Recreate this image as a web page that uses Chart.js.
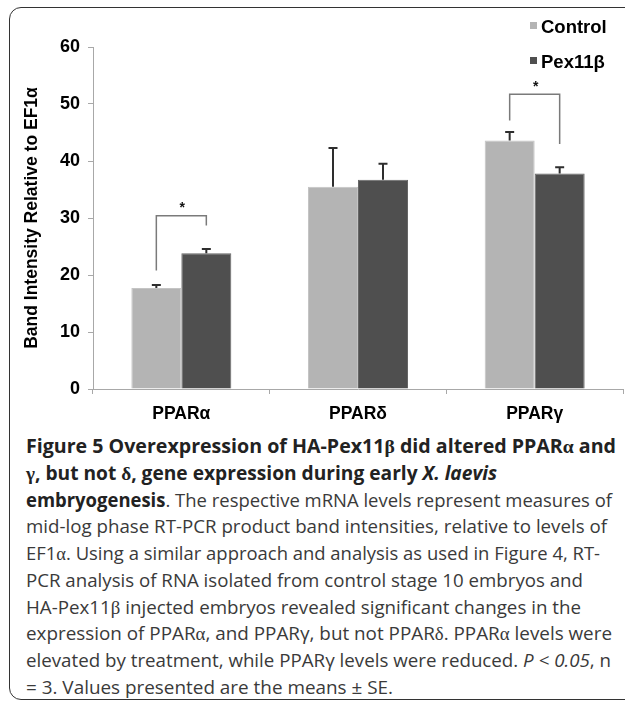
<!DOCTYPE html>
<html><head><meta charset="utf-8">
<script src="https://cdn.jsdelivr.net/npm/chart.js@4.4.1/dist/chart.umd.min.js"></script>
<style>
html,body{margin:0;padding:0;background:#fff;width:625px;height:704px;overflow:hidden;}
#frame{position:absolute;left:9px;top:7px;width:660px;height:693px;border:1.5px solid #333;border-radius:12px;box-sizing:border-box;}
#c{position:absolute;left:0;top:0;}
#cap{position:absolute;left:26px;top:0;font-family:"Open Sans",sans-serif;font-size:19px;color:#3a3a3a;}
.ln{position:absolute;left:0;white-space:nowrap;transform-origin:0 50%;line-height:26.7px;height:26.7px;}
.b{font-weight:bold;color:#222;}
.g{font-family:"Liberation Serif","DejaVu Serif",serif;}
</style></head>
<body>
<div id="frame"></div>
<canvas id="c" width="625" height="430"></canvas>
<div id="cap">
<div class="ln" data-r="616"><span class="b">Figure 5 Overexpression of HA-Pex11<span class="g">β</span> did altered PPAR<span class="g">α</span> and</span></div>
<div class="ln" data-r="497"><span class="b"><span class="g">γ</span>, but not <span class="g">δ</span>, gene expression during early <i>X. laevis</i></span></div>
<div class="ln" data-r="612"><span class="b">embryogenesis</span>. The respective mRNA levels represent measures of</div>
<div class="ln" data-r="607">mid-log phase RT-PCR product band intensities, relative to levels of</div>
<div class="ln" data-r="600">EF1<span class="g">α</span>. Using a similar approach and analysis as used in Figure 4, RT-</div>
<div class="ln" data-r="583">PCR analysis of RNA isolated from control stage 10 embryos and</div>
<div class="ln" data-r="581">HA-Pex11<span class="g">β</span> injected embryos revealed significant changes in the</div>
<div class="ln" data-r="612">expression of PPAR<span class="g">α</span>, and PPARγ, but not PPAR<span class="g">δ</span>. PPAR<span class="g">α</span> levels were</div>
<div class="ln" data-r="611">elevated by treatment, while PPARγ levels were reduced. <i>P &lt; 0.05</i>, n</div>
<div class="ln" data-r="393">= 3. Values presented are the means ± SE.</div>
</div>
<script>
// ---- data ----
const categories = ['PPARα', 'PPARδ', 'PPARγ'];
const seriesNames = ['Control', 'Pex11β'];
const controlValues = [17.7, 35.5, 43.6];
const pexValues = [23.8, 36.7, 37.8];
const controlSE = [0.55, 6.8, 1.5];
const pexSE = [0.75, 2.8, 1.1];
const yTicks = [0, 10, 20, 30, 40, 50, 60];
const sigCategories = [0, 2];
const bracketTops = [30.4, 51.7];
const bracketLeftEnds = [20.8, 47.1];
const bracketRightEnds = [28.7, 43.0];
const starLevels = [32.2, 53.5];
const seriesColors = ['#b4b4b4', '#4f4f4f'];
const seriesBorders = ['#c4c4c4', '#666666'];

// caption layout
document.querySelectorAll('#cap .ln').forEach((el, i) => {
  el.style.top = (433.3 + i * 26.7) + 'px';
});
function fitCaption() {
  document.querySelectorAll('#cap .ln').forEach(el => {
    const target = parseFloat(el.dataset.r) - 26;
    el.style.transform = 'none';
    const w = el.getBoundingClientRect().width;
    if (w > 0) el.style.transform = 'scaleX(' + (target / w) + ')';
  });
}
fitCaption();
if (document.fonts && document.fonts.ready) document.fonts.ready.then(fitCaption);

const FONT = '"Liberation Sans", Arial, Helvetica, sans-serif';
const errSets = [controlSE, pexSE];

const errorBars = {
  id: 'errorBars',
  afterDatasetsDraw(chart) {
    const ctx = chart.ctx, y = chart.scales.y;
    ctx.save();
    ctx.strokeStyle = '#2e2e2e';
    ctx.lineWidth = 2;
    chart.data.datasets.forEach((ds, d) => {
      const meta = chart.getDatasetMeta(d);
      meta.data.forEach((bar, i) => {
        const top = y.getPixelForValue(ds.data[i] + errSets[d][i]);
        ctx.beginPath();
        ctx.moveTo(bar.x, bar.y);
        ctx.lineTo(bar.x, top);
        ctx.moveTo(bar.x - 4.5, top);
        ctx.lineTo(bar.x + 4.5, top);
        ctx.stroke();
      });
    });
    ctx.restore();
  }
};

const brackets = {
  id: 'brackets',
  afterDatasetsDraw(chart) {
    const ctx = chart.ctx, y = chart.scales.y;
    const m0 = chart.getDatasetMeta(0), m1 = chart.getDatasetMeta(1);
    ctx.save();
    ctx.strokeStyle = '#7a7a7a';
    ctx.lineWidth = 1.5;
    sigCategories.forEach((ci, k) => {
      const xl = m0.data[ci].x, xr = m1.data[ci].x;
      const yt = y.getPixelForValue(bracketTops[k]);
      ctx.beginPath();
      ctx.moveTo(xl, y.getPixelForValue(bracketLeftEnds[k]));
      ctx.lineTo(xl, yt);
      ctx.lineTo(xr, yt);
      ctx.lineTo(xr, y.getPixelForValue(bracketRightEnds[k]));
      ctx.stroke();
      ctx.fillStyle = '#111';
      ctx.font = 'bold 14px ' + FONT;
      ctx.textAlign = 'center';
      ctx.textBaseline = 'middle';
      ctx.fillText('*', (xl + xr) / 2 + 1, y.getPixelForValue(starLevels[k]) + 3);
    });
    ctx.restore();
  }
};

const legendBoxes = {
  id: 'legendBoxes',
  afterDraw(chart) {
    const ctx = chart.ctx;
    const pos = [{x: 530, y: 28}, {x: 530, y: 63}];
    ctx.save();
    ctx.font = 'bold 18.5px ' + FONT;
    ctx.textBaseline = 'middle';
    ctx.textAlign = 'left';
    chart.data.datasets.forEach((ds, d) => {
      const p = pos[d];
      ctx.fillStyle = ds.backgroundColor;
      ctx.fillRect(p.x, p.y - 6, 7, 7);
      ctx.fillStyle = '#000';
      ctx.fillText(ds.label, p.x + 11, p.y);
    });
    ctx.restore();
  }
};

new Chart(document.getElementById('c'), {
  type: 'bar',
  data: {
    labels: categories,
    datasets: [
      {label: seriesNames[0], data: controlValues, backgroundColor: seriesColors[0], borderColor: seriesBorders[0], borderWidth: 1},
      {label: seriesNames[1], data: pexValues, backgroundColor: seriesColors[1], borderColor: seriesBorders[1], borderWidth: 1}
    ]
  },
  options: {
    responsive: false,
    animation: false,
    devicePixelRatio: 1,
    datasets: {bar: {categoryPercentage: 0.566, barPercentage: 1.0}},
    layout: {padding: {top: 47, left: 14, right: 2, bottom: 0}},
    plugins: {legend: {display: false}, tooltip: {enabled: false}},
    scales: {
      x: {
        grid: {display: true, drawOnChartArea: false, drawTicks: true, tickLength: 5, color: '#a8a8a8', offset: true},
        border: {color: '#a8a8a8', width: 1},
        ticks: {color: '#000', font: {family: FONT, size: 17.5, weight: 'bold'}, padding: 10},
        afterFit(s) { s.height = 41; }
      },
      y: {
        min: 0, max: 60,
        afterBuildTicks(s) { s.ticks = yTicks.map(v => ({value: v})); },
        grid: {display: true, drawOnChartArea: false, drawTicks: true, tickLength: 5, color: '#a8a8a8'},
        border: {color: '#a8a8a8', width: 1},
        ticks: {color: '#000', font: {family: FONT, size: 18, weight: 'bold'}, padding: 8},
        title: {display: true, text: 'Band Intensity Relative to EF1α', color: '#000', font: {family: FONT, size: 17.5, weight: 'bold'}, padding: {top: 8, bottom: 10}},
        afterFit(s) { s.width = 79; }
      }
    }
  },
  plugins: [errorBars, brackets, legendBoxes]
});
</script>
</body></html>
